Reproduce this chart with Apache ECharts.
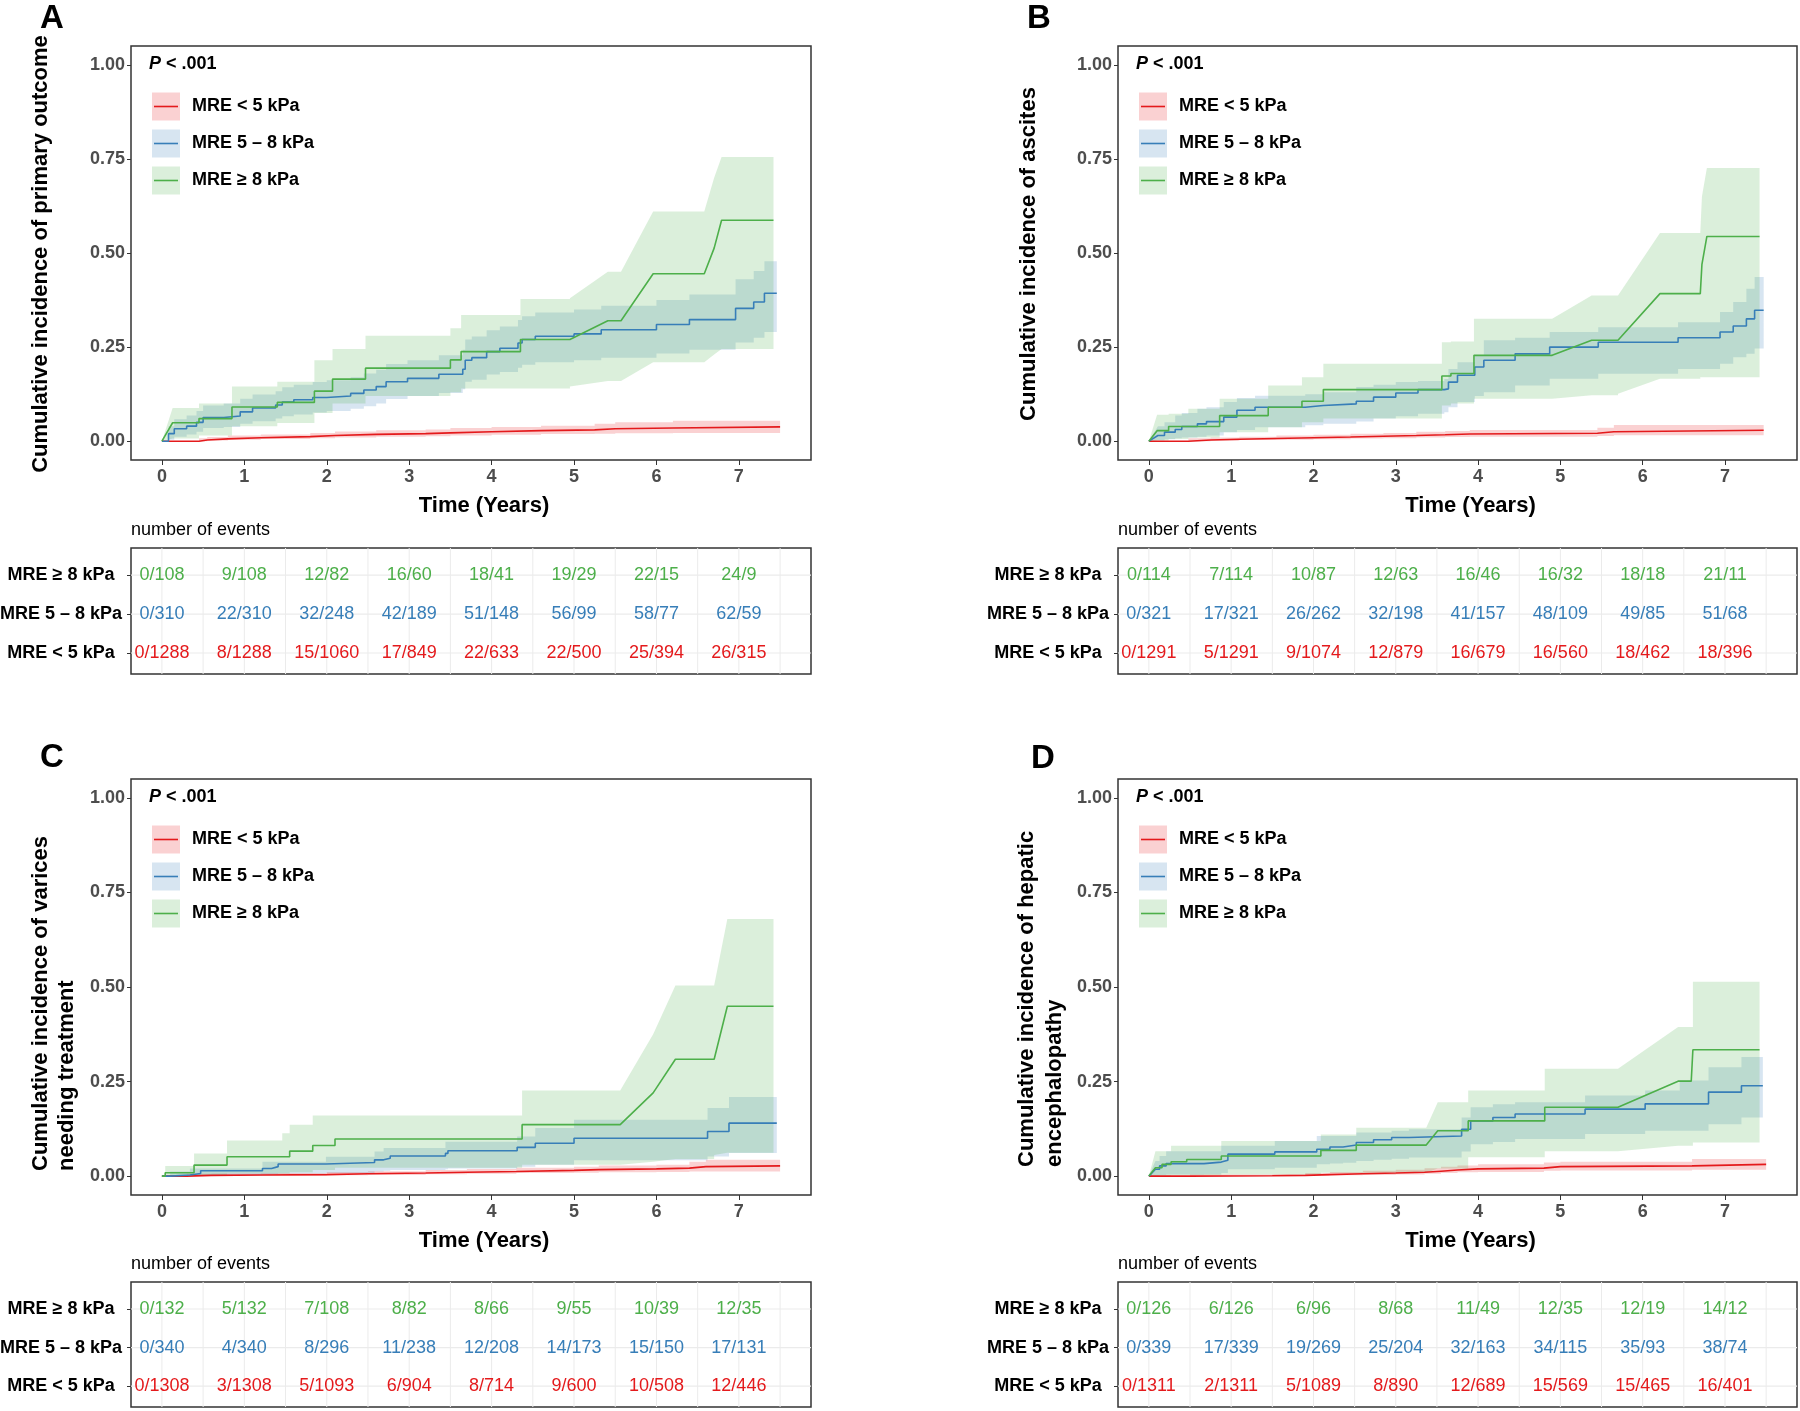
<!DOCTYPE html>
<html><head><meta charset="utf-8">
<script src="https://cdn.jsdelivr.net/npm/echarts@6/dist/echarts.min.js"></script>
<style>html,body{margin:0;padding:0;background:#fff}#c{width:1800px;height:1411px}</style>
</head><body><div id="c"></div>
<script>
// ---------- DATA ----------
const groups = ['MRE < 5 kPa', 'MRE 5 – 8 kPa', 'MRE ≥ 8 kPa'];
const timeTicks = [0, 1, 2, 3, 4, 5, 6, 7];
const yTicks = [0, 0.25, 0.5, 0.75, 1];
const yTickLabels = ['0.00', '0.25', '0.50', '0.75', '1.00'];
const tableGridX = [0, 0.5, 1, 1.5, 2, 2.5, 3, 3.5, 4, 4.5, 5, 5.5, 6, 6.5, 7, 7.5];
const panelLetters = ['A', 'B', 'C', 'D'];
const yTitles = [
  ['Cumulative incidence of primary outcome'],
  ['Cumulative incidence of ascites'],
  ['Cumulative incidence of varices', 'needing treatment'],
  ['Cumulative incidence of hepatic', 'encephalopathy']
];
// rows: [time, estimate, lower CI, upper CI, 1 = linear segment from previous point]
const A_lt5 = [[0,0,0,0],[0.45,0.003,0,0.008],[0.55,0.006,0.002,0.011],[0.8,0.009,0.004,0.015],[1.2,0.012,0.006,0.018],[1.8,0.015,0.008,0.022],[2.1,0.018,0.01,0.026],[2.6,0.02,0.012,0.029],[3.2,0.022,0.013,0.031],[3.5,0.025,0.015,0.035],[4.0,0.028,0.017,0.038],[4.6,0.03,0.019,0.041],[5.25,0.033,0.02,0.046],[5.5,0.035,0.021,0.05],[6.2,0.038,0.022,0.054],[7.5,0.038,0.022,0.054]];
const A_mid = [[0,0,0,0],[0.08,0.02,0.004,0.04],[0.15,0.033,0.012,0.058],[0.3,0.04,0.018,0.068],[0.42,0.05,0.025,0.08],[0.5,0.063,0.035,0.095],[0.75,0.067,0.038,0.1],[0.95,0.078,0.046,0.113],[1.1,0.088,0.053,0.124],[1.38,0.096,0.06,0.133],[1.46,0.104,0.066,0.143],[1.6,0.11,0.071,0.15],[1.83,0.116,0.076,0.157],[2.0,0.12,0.08,0.162],[2.29,0.127,0.086,0.17],[2.45,0.136,0.093,0.18],[2.6,0.145,0.1,0.19],[2.72,0.158,0.112,0.205],[2.98,0.167,0.12,0.215],[3.36,0.178,0.128,0.228],[3.65,0.191,0.138,0.243],[3.68,0.215,0.158,0.27],[3.76,0.222,0.163,0.278],[3.94,0.238,0.177,0.295],[4.1,0.247,0.184,0.305],[4.32,0.261,0.195,0.322],[4.37,0.27,0.203,0.332],[4.53,0.279,0.21,0.342],[5.0,0.285,0.215,0.35],[5.33,0.296,0.222,0.36],[6.0,0.31,0.233,0.375],[6.4,0.323,0.243,0.39],[6.96,0.353,0.262,0.43],[7.18,0.37,0.275,0.452],[7.31,0.393,0.29,0.478],[7.46,0.393,0.29,0.478]];
const A_ge8 = [[0,0,0,0],[0.13,0.049,0.007,0.088,1],[0.45,0.06,0.015,0.1],[0.85,0.091,0.04,0.145],[1.4,0.103,0.048,0.158],[1.85,0.133,0.075,0.215],[2.07,0.165,0.1,0.245],[2.47,0.194,0.12,0.28],[3.5,0.216,0.13,0.3],[3.63,0.238,0.14,0.335],[4.35,0.27,0.14,0.378],[4.95,0.274,0.145,0.38],[5.41,0.32,0.16,0.45,1],[5.57,0.32,0.16,0.45],[5.96,0.445,0.21,0.61,1],[6.58,0.445,0.21,0.61],[6.7,0.513,0.23,0.7,1],[6.79,0.587,0.245,0.755,1],[7.42,0.587,0.245,0.755]];

const B_lt5 = [[0,0,0,0],[0.48,0.003,0,0.008],[0.75,0.005,0.001,0.01],[1.1,0.007,0.003,0.012],[1.55,0.009,0.004,0.015],[2.0,0.011,0.005,0.017],[2.45,0.013,0.007,0.02],[2.85,0.015,0.008,0.022],[3.25,0.017,0.01,0.025],[3.6,0.019,0.011,0.027],[3.9,0.021,0.012,0.03],[5.45,0.025,0.014,0.036],[5.65,0.029,0.016,0.043],[7.47,0.029,0.016,0.043]];
const B_mid = [[0,0,0,0],[0.11,0.015,0.002,0.04,1],[0.19,0.024,0.005,0.05],[0.32,0.031,0.008,0.068],[0.4,0.039,0.01,0.075],[0.59,0.046,0.012,0.086],[0.7,0.052,0.015,0.09],[0.91,0.064,0.024,0.104],[1.07,0.082,0.03,0.115],[1.29,0.09,0.037,0.121],[1.9,0.095,0.042,0.125],[2.12,0.099,0.046,0.13],[2.52,0.106,0.052,0.144],[2.73,0.117,0.06,0.15],[3.0,0.128,0.066,0.157],[3.27,0.137,0.073,0.16],[3.59,0.139,0.077,0.165],[3.64,0.157,0.09,0.192],[3.75,0.175,0.104,0.21],[3.96,0.197,0.12,0.228],[4.07,0.215,0.13,0.268],[4.45,0.232,0.148,0.275],[4.87,0.25,0.166,0.29],[5.46,0.263,0.179,0.303],[6.43,0.275,0.192,0.316],[6.94,0.29,0.206,0.343],[7.1,0.306,0.223,0.37],[7.26,0.325,0.232,0.405],[7.36,0.348,0.246,0.436],[7.47,0.348,0.246,0.436]];
const B_ge8 = [[0,0,0,0],[0.1,0.028,0.002,0.07,1],[0.24,0.039,0.006,0.073],[0.48,0.039,0.01,0.086],[0.86,0.068,0.024,0.113],[1.45,0.09,0.037,0.148],[1.86,0.106,0.05,0.17],[2.12,0.137,0.06,0.206],[3.56,0.173,0.095,0.263],[3.67,0.18,0.1,0.265],[3.95,0.228,0.113,0.325],[4.9,0.228,0.113,0.325],[5.38,0.268,0.122,0.387,1],[5.7,0.268,0.126,0.387],[6.21,0.392,0.166,0.553,1],[6.7,0.392,0.17,0.553],[6.72,0.47,0.17,0.65,1],[6.78,0.544,0.17,0.726,1],[7.42,0.544,0.17,0.726]];

const C_lt5 = [[0,0,0,0],[0.3,0.002,0,0.006],[0.6,0.003,0.001,0.007],[1.2,0.004,0.001,0.008],[2.0,0.006,0.002,0.011],[2.5,0.008,0.003,0.013],[3.2,0.01,0.005,0.016],[3.7,0.012,0.006,0.019],[4.3,0.015,0.008,0.022],[5.0,0.017,0.009,0.025],[5.3,0.019,0.01,0.028],[6.0,0.021,0.011,0.03],[6.4,0.025,0.012,0.038],[6.6,0.027,0.012,0.043],[7.5,0.027,0.012,0.043]];
const C_mid = [[0,0,0,0],[0.1,0.003,0,0.012],[0.34,0.007,0,0.02],[0.47,0.014,0.002,0.02],[1.22,0.02,0.003,0.038],[1.33,0.025,0.005,0.038],[1.41,0.032,0.007,0.038],[1.99,0.036,0.008,0.051],[2.58,0.043,0.012,0.065],[2.69,0.047,0.014,0.074],[2.77,0.053,0.016,0.074],[3.44,0.06,0.018,0.091],[3.47,0.067,0.02,0.091],[4.31,0.076,0.025,0.105],[4.53,0.087,0.03,0.127],[5.0,0.1,0.042,0.149],[6.62,0.118,0.052,0.18],[6.88,0.14,0.061,0.209],[7.46,0.14,0.061,0.209]];
const C_ge8 = [[0,0,0,0],[0.04,0.009,0,0.027],[0.39,0.029,0,0.06],[0.79,0.051,0.007,0.094],[1.46,0.051,0.007,0.113],[1.55,0.066,0.01,0.136],[1.83,0.081,0.016,0.16],[2.1,0.098,0.022,0.16],[4.37,0.136,0.03,0.226],[5.56,0.136,0.03,0.226],[5.96,0.22,0.038,0.375,1],[6.23,0.309,0.045,0.504,1],[6.7,0.309,0.056,0.504],[6.86,0.449,0.062,0.68,1],[7.42,0.449,0.062,0.68]];

const D_lt5 = [[0,0,0,0],[0.5,0.001,0,0.004],[1.5,0.002,0,0.005],[1.9,0.004,0.001,0.008],[2.2,0.006,0.002,0.011],[2.6,0.008,0.003,0.014],[3.0,0.01,0.004,0.017],[3.35,0.013,0.006,0.021],[3.55,0.016,0.008,0.025],[3.75,0.019,0.01,0.028],[4.0,0.021,0.011,0.031],[4.8,0.025,0.014,0.036],[5.0,0.027,0.015,0.038],[6.6,0.031,0.017,0.045],[7.5,0.031,0.017,0.045]];
const D_mid = [[0,0,0,0],[0.08,0.018,0,0.04,1],[0.13,0.027,0.003,0.053],[0.21,0.033,0.004,0.066],[0.67,0.037,0.005,0.066],[0.88,0.042,0.008,0.08],[0.96,0.058,0.018,0.08],[1.53,0.064,0.022,0.093],[2.04,0.071,0.031,0.106],[2.2,0.077,0.033,0.106],[2.36,0.082,0.035,0.106],[2.52,0.089,0.04,0.115],[2.73,0.096,0.043,0.115],[2.95,0.102,0.046,0.12],[3.16,0.106,0.049,0.124],[3.8,0.124,0.065,0.155],[3.91,0.146,0.084,0.182],[4.18,0.155,0.09,0.19],[4.45,0.164,0.098,0.195],[5.3,0.177,0.111,0.213],[6.03,0.191,0.12,0.226],[6.45,0.191,0.12,0.253],[6.8,0.222,0.137,0.288],[7.2,0.239,0.155,0.315],[7.46,0.239,0.155,0.315]];
const D_ge8 = [[0,0,0,0],[0.08,0.022,0,0.066,1],[0.16,0.031,0,0.066],[0.27,0.038,0.002,0.08],[0.46,0.044,0.003,0.08],[0.88,0.053,0.004,0.093],[2.09,0.068,0.009,0.11],[2.52,0.082,0.009,0.128],[3.37,0.082,0.009,0.128],[3.51,0.12,0.02,0.195,1],[3.88,0.146,0.05,0.226],[4.81,0.182,0.066,0.284],[5.7,0.182,0.066,0.284],[6.43,0.251,0.08,0.394,1],[6.59,0.251,0.08,0.394],[6.61,0.334,0.089,0.514],[7.42,0.334,0.089,0.514]];

// number of events tables (events / at risk)
const A_ev_lt5 = ['0/1288','8/1288','15/1060','17/849','22/633','22/500','25/394','26/315'];
const A_ev_mid = ['0/310','22/310','32/248','42/189','51/148','56/99','58/77','62/59'];
const A_ev_ge8 = ['0/108','9/108','12/82','16/60','18/41','19/29','22/15','24/9'];
const B_ev_lt5 = ['0/1291','5/1291','9/1074','12/879','16/679','16/560','18/462','18/396'];
const B_ev_mid = ['0/321','17/321','26/262','32/198','41/157','48/109','49/85','51/68'];
const B_ev_ge8 = ['0/114','7/114','10/87','12/63','16/46','16/32','18/18','21/11'];
const C_ev_lt5 = ['0/1308','3/1308','5/1093','6/904','8/714','9/600','10/508','12/446'];
const C_ev_mid = ['0/340','4/340','8/296','11/238','12/208','14/173','15/150','17/131'];
const C_ev_ge8 = ['0/132','5/132','7/108','8/82','8/66','9/55','10/39','12/35'];
const D_ev_lt5 = ['0/1311','2/1311','5/1089','8/890','12/689','15/569','15/465','16/401'];
const D_ev_mid = ['0/339','17/339','19/269','25/204','32/163','34/115','35/93','38/74'];
const D_ev_ge8 = ['0/126','6/126','6/96','8/68','11/49','12/35','12/19','14/12'];

// ---------- STYLE / LAYOUT ----------
const colors = ['#E41A1C', '#377EB8', '#4DAF4A'];
const FONT = '"Liberation Sans", Arial, Helvetica, sans-serif';
const X_MIN = -0.375, X_MAX = 7.875;
const T_MIN = 0.46, T_MAX = 3.7;
const panels = [
  { curves: [A_lt5, A_mid, A_ge8], ev: [A_ev_lt5, A_ev_mid, A_ev_ge8],
    plot: [131, 46, 680, 414], table: [131, 548, 680, 126], letter: [40, 19], ytx: [41], ytBottom: null, evY: 530 },
  { curves: [B_lt5, B_mid, B_ge8], ev: [B_ev_lt5, B_ev_mid, B_ev_ge8],
    plot: [1118, 46, 679, 414], table: [1118, 548, 679, 126], letter: [1027, 19], ytx: [1029], ytBottom: null, evY: 530 },
  { curves: [C_lt5, C_mid, C_ge8], ev: [C_ev_lt5, C_ev_mid, C_ev_ge8],
    plot: [131, 779, 680, 416], table: [131, 1282, 680, 125], letter: [40, 758], ytx: [41, 67], ytBottom: 1171, evY: 1264 },
  { curves: [D_lt5, D_mid, D_ge8], ev: [D_ev_lt5, D_ev_mid, D_ev_ge8],
    plot: [1118, 779, 679, 416], table: [1118, 1282, 679, 125], letter: [1031, 759], ytx: [1027, 1055], ytBottom: 1167, evY: 1264 }
];

function rgba(hex, a) {
  const n = parseInt(hex.slice(1), 16);
  return `rgba(${(n >> 16) & 255},${(n >> 8) & 255},${n & 255},${a})`;
}
// build polyline vertices from step rows (col: 1 estimate, 2 lower, 3 upper)
function toPath(rows, col) {
  const pts = [[rows[0][0], rows[0][col]]];
  for (let i = 1; i < rows.length; i++) {
    const r = rows[i], p = rows[i - 1];
    if (r[4] === 1) pts.push([r[0], r[col]]);
    else { pts.push([r[0], p[col]]); pts.push([r[0], r[col]]); }
  }
  return pts;
}

const grids = [], xAxes = [], yAxes = [], series = [], graphics = [];

panels.forEach((P, pi) => {
  const gi = pi * 2, ti = pi * 2 + 1;
  const [L, T, W, H] = P.plot;
  const [tl, tt, tw, th] = P.table;
  grids.push({ left: L, top: T, width: W, height: H, show: true, borderColor: '#333', borderWidth: 1.5, backgroundColor: 'transparent', containLabel: false, outerBoundsMode: 'none' });
  grids.push({ left: tl, top: tt, width: tw, height: th, show: true, borderColor: '#333', borderWidth: 1.5, backgroundColor: 'transparent', containLabel: false, outerBoundsMode: 'none' });

  xAxes.push({ gridIndex: gi, type: 'value', min: X_MIN, max: X_MAX, position: 'bottom',
    axisLine: { show: false, onZero: false }, splitLine: { show: false },
    axisTick: { show: true, customValues: timeTicks, length: 5, lineStyle: { color: '#333', width: 1 } },
    axisLabel: { customValues: timeTicks, margin: 8, color: '#4D4D4D', fontWeight: 'bold', fontSize: 18, fontFamily: FONT } });
  xAxes.push({ gridIndex: ti, type: 'value', min: X_MIN, max: X_MAX, position: 'bottom',
    axisLine: { show: false, onZero: false }, splitLine: { show: false }, axisTick: { show: false }, axisLabel: { show: false } });

  yAxes.push({ gridIndex: gi, type: 'value', min: -0.05, max: 1.05, position: 'left',
    axisLine: { show: false, onZero: false }, splitLine: { show: false },
    axisTick: { show: true, customValues: yTicks, length: 4, lineStyle: { color: '#333', width: 1 } },
    axisLabel: { customValues: yTicks, margin: 6, color: '#4D4D4D', fontWeight: 'bold', fontSize: 18, fontFamily: FONT,
      formatter: v => { const k = yTicks.indexOf(v); return k >= 0 ? yTickLabels[k] : v.toFixed(2); } } });
  yAxes.push({ gridIndex: ti, type: 'value', min: T_MIN, max: T_MAX, position: 'left',
    axisLine: { show: false, onZero: false }, splitLine: { show: false },
    axisTick: { show: true, customValues: [1, 2, 3], length: 4, lineStyle: { color: '#333', width: 1 } },
    axisLabel: { customValues: [1, 2, 3], margin: 70, align: 'center', color: '#000', fontWeight: 'bold', fontSize: 18, fontFamily: FONT,
      formatter: v => groups[Math.round(v) - 1] } });

  // confidence bands
  P.curves.forEach((rows, g) => {
    const hi = toPath(rows, 3), lo = toPath(rows, 2);
    const poly = hi.concat(lo.slice().reverse());
    series.push({ type: 'custom', xAxisIndex: gi, yAxisIndex: gi, silent: true, z: 2 + g * 0.01, clip: true,
      data: [[0, 0]],
      renderItem: (params, api) => ({ type: 'polygon', shape: { points: poly.map(p => api.coord(p)) },
        style: { fill: rgba(colors[g], 0.2) } }) });
  });
  // estimate lines
  P.curves.forEach((rows, g) => {
    series.push({ type: 'line', xAxisIndex: gi, yAxisIndex: gi, data: toPath(rows, 1), symbol: 'none', silent: true,
      z: 5 + g * 0.01, lineStyle: { color: colors[g], width: 1.6 }, animation: false });
  });
  // table grid lines
  series.push({ type: 'custom', xAxisIndex: ti, yAxisIndex: ti, silent: true, z: 1,
    data: tableGridX.map(x => [x, T_MIN]),
    renderItem: (params, api) => { const a = api.coord([api.value(0), T_MIN]), b = api.coord([api.value(0), T_MAX]);
      return { type: 'line', shape: { x1: a[0], y1: a[1], x2: b[0], y2: b[1] }, style: { stroke: '#EBEBEB', lineWidth: 1 } }; } });
  series.push({ type: 'custom', xAxisIndex: ti, yAxisIndex: ti, silent: true, z: 1,
    data: [[X_MIN, 1], [X_MIN, 2], [X_MIN, 3]],
    renderItem: (params, api) => { const a = api.coord([X_MIN, api.value(1)]), b = api.coord([X_MAX, api.value(1)]);
      return { type: 'line', shape: { x1: a[0], y1: a[1], x2: b[0], y2: b[1] }, style: { stroke: '#EBEBEB', lineWidth: 1.2 } }; } });
  // table texts
  P.ev.forEach((arr, g) => {
    series.push({ type: 'scatter', xAxisIndex: ti, yAxisIndex: ti, silent: true, z: 5, symbolSize: 1,
      itemStyle: { color: 'rgba(0,0,0,0)' },
      data: timeTicks.map((t, i) => ({ name: arr[i], value: [t, g + 1] })),
      label: { show: true, position: 'inside', formatter: '{b}', color: colors[g], fontSize: 18, fontFamily: FONT, fontWeight: 'normal', opacity: 1 },
      labelLayout: { hideOverlap: false },
      animation: false });
  });

  // ---- graphic text ----
  const txt = (x, y, text, font, align, va, rot, extra) => Object.assign({ type: 'text', x, y, rotation: rot || 0, silent: true, z: 100,
    style: Object.assign({ text, font, fill: '#000', align, verticalAlign: va, textAlign: align, textVerticalAlign: va }, extra || {}) });
  graphics.push(txt(P.letter[0], P.letter[1], panelLetters[pi], `bold 33px ${FONT}`, 'left', 'middle'));
  // y title
  if (P.ytx.length === 1) {
    graphics.push(txt(P.ytx[0], T + H / 2 + 1, yTitles[pi][0], `bold 22px ${FONT}`, 'center', 'middle', Math.PI / 2));
  } else {
    yTitles[pi].forEach((line, k) => graphics.push(txt(P.ytx[k], P.ytBottom, line, `bold 22px ${FONT}`, 'left', 'middle', Math.PI / 2)));
  }
  // x title
  graphics.push(txt(L + W / 2 + 13, T + H + 46, 'Time (Years)', `bold 22px ${FONT}`, 'center', 'middle'));
  // number of events
  graphics.push(txt(tl, P.evY, 'number of events', `18px ${FONT}`, 'left', 'middle'));
  // P value
  graphics.push(txt(L + 18, T + 18, 'P', `italic bold 18px ${FONT}`, 'left', 'middle'));
  graphics.push(txt(L + 35, T + 18, '< .001', `bold 18px ${FONT}`, 'left', 'middle'));
  // legend
  const keyY = [60.5, 97.5, 134.5];
  for (let g = 0; g < 3; g++) {
    const cy = T + keyY[g];
    graphics.push({ type: 'rect', silent: true, z: 90, shape: { x: L + 21, y: cy - 14, width: 28, height: 28 }, style: { fill: rgba(colors[g], 0.2) } });
    graphics.push({ type: 'line', silent: true, z: 91, shape: { x1: L + 23, y1: cy, x2: L + 47, y2: cy }, style: { stroke: colors[g], lineWidth: 1.6 } });
    graphics.push(txt(L + 61, cy, groups[g], `bold 18px ${FONT}`, 'left', 'middle'));
  }
});

const chart = echarts.init(document.getElementById('c'), null, { renderer: 'canvas', width: 1800, height: 1411 });
chart.setOption({
  animation: false,
  backgroundColor: '#fff',
  grid: grids, xAxis: xAxes, yAxis: yAxes, series, graphic: graphics
});
</script></body></html>
